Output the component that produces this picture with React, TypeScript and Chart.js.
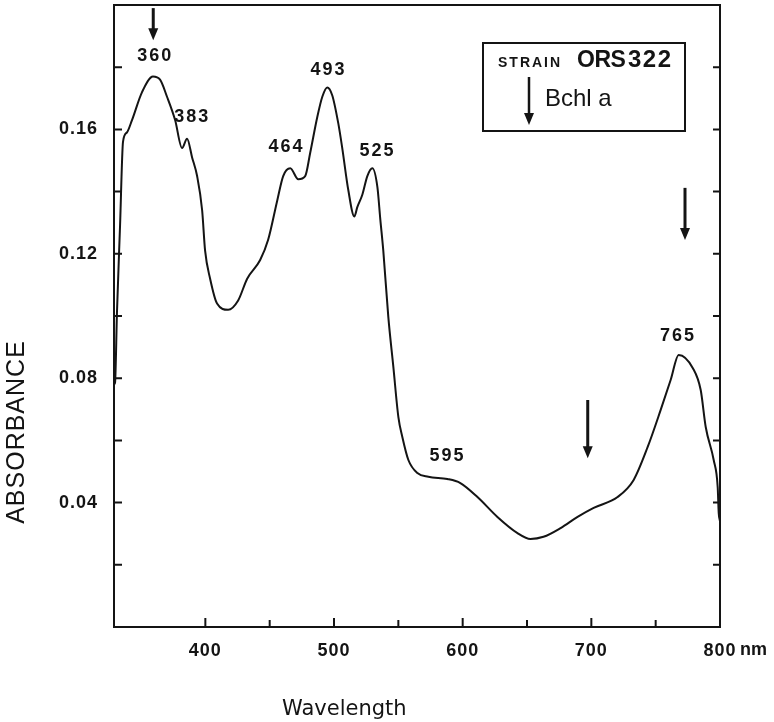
import React, { useEffect, useRef } from 'react';
import { Chart, registerables } from 'chart.js';

Chart.register(...registerables);

// Absorption spectrum, strain ORS 322
const wavelength = [
  329, 329.8, 331.3, 333.7, 336, 339, 343, 350.8, 359.3, 364.8, 370.2, 376.5, 381.9, 385.8, 389.7,
  393.6, 397.5, 399.8, 403.7, 409.1, 417.7, 425.5, 432.5, 442.6, 448.8, 455.8, 460.5, 466, 472.2,
  477.6, 481.5, 487, 490.9, 494.7, 498.6, 503.3, 506.4, 511.1, 515.8, 518.1, 522, 525.9, 529.8,
  533.7, 536, 538.3, 542.2, 546.1, 550, 553.1, 557.8, 564.8, 573.3, 588.1, 598.2, 611.5, 627,
  642.6, 652.7, 662.8, 676.1, 689.3, 701.8, 720.4, 732.9, 743.8, 753.9, 761.7, 767.9, 778.8, 785,
  788.9, 795.1, 798.2, 799, 800,
];
const absorbance = [
  0.078, 0.0785, 0.101, 0.129, 0.156, 0.159, 0.163, 0.172, 0.177, 0.176, 0.1705, 0.163, 0.154,
  0.157, 0.151, 0.145, 0.134, 0.121, 0.112, 0.104, 0.102, 0.105, 0.112, 0.118, 0.1245, 0.137, 0.145,
  0.1475, 0.144, 0.145, 0.1525, 0.164, 0.1705, 0.1735, 0.171, 0.162, 0.154, 0.1405, 0.132, 0.135,
  0.139, 0.145, 0.1475, 0.1415, 0.131, 0.121, 0.0997, 0.0837, 0.0676, 0.0611, 0.0537, 0.0495,
  0.0483, 0.0476, 0.0463, 0.0418, 0.0354, 0.0302, 0.0283, 0.029, 0.0318, 0.0354, 0.0383, 0.0418,
  0.0473, 0.0579, 0.0698, 0.0795, 0.0875, 0.0833, 0.0762, 0.0643, 0.0537, 0.045, 0.0367, 0.034,
];

const xTickLabels = ['400', '500', '600', '700', '800'];
const xUnit = 'nm';
const yTickLabels = ['0.04', '0.08', '0.12', '0.16'];
const xTitle = 'Wavelength';
const yTitle = 'ABSORBANCE';

// peak annotations (label, wavelength, absorbance where the label sits)
const peakLabels = ['360', '383', '464', '493', '525', '595', '765'];
const peakLabelX = [360.3, 389, 462.3, 495, 533, 587.5, 766.5];
const peakLabelY = [0.1836, 0.164, 0.1543, 0.179, 0.153, 0.055, 0.0936];

// Bchl a arrows (wavelength, arrow start absorbance, arrow tip absorbance)
const arrowX = [359.5, 697.2, 772.8];
const arrowTop = [0.199, 0.073, 0.1412];
const arrowTip = [0.1887, 0.0543, 0.1244];

const legendStrain = 'STRAIN';
const legendName = 'ORS';
const legendNumber = '322';
const legendArrowText = 'Bchl a';

const SANS = "'Liberation Sans', Arial, sans-serif";
const INK = '#141414';

function drawArrow(ctx: CanvasRenderingContext2D, x: number, y1: number, y2: number, lw = 3) {
  ctx.beginPath();
  ctx.lineWidth = lw;
  ctx.moveTo(x, y1);
  ctx.lineTo(x, y2 - 10);
  ctx.stroke();
  ctx.beginPath();
  ctx.moveTo(x - 5, y2 - 12);
  ctx.lineTo(x + 5, y2 - 12);
  ctx.lineTo(x, y2);
  ctx.closePath();
  ctx.fill();
}

const overlay = {
  id: 'overlay',
  beforeDraw(chart: any) {
    (chart.ctx as any).letterSpacing = '1px';
  },
  afterDraw(chart: any) {
    const { ctx, chartArea: ca, scales } = chart;
    const xs = scales.x;
    const ys = scales.y;
    ctx.save();
    (ctx as any).letterSpacing = '0px';
    ctx.strokeStyle = INK;
    ctx.fillStyle = INK;

    // frame
    ctx.lineWidth = 2;
    ctx.strokeRect(ca.left, ca.top, ca.right - ca.left, ca.bottom - ca.top);

    // inward ticks
    ctx.lineWidth = 2;
    xs.ticks.forEach((t: any) => {
      const v = t.value;
      if (v % 50 !== 0 || v <= xs.min || v >= xs.max) return;
      const px = xs.getPixelForValue(v);
      const len = v % 100 === 0 ? 9 : 7;
      ctx.beginPath();
      ctx.moveTo(px, ca.bottom);
      ctx.lineTo(px, ca.bottom - len);
      ctx.stroke();
    });
    ys.ticks.forEach((t: any) => {
      const v = t.value;
      if (v <= ys.min + 1e-9 || v >= ys.max - 1e-9) return;
      const py = ys.getPixelForValue(v);
      ctx.beginPath();
      ctx.moveTo(ca.left, py);
      ctx.lineTo(ca.left + 8, py);
      ctx.moveTo(ca.right, py);
      ctx.lineTo(ca.right - 7, py);
      ctx.stroke();
    });

    // unit after last x tick label
    ctx.font = `bold 18px ${SANS}`;
    (ctx as any).letterSpacing = '0px';
    ctx.textAlign = 'left';
    ctx.textBaseline = 'middle';
    ctx.fillText(xUnit, xs.getPixelForValue(800) + 20, ca.bottom + 23);

    // peak labels
    (ctx as any).letterSpacing = '2px';
    ctx.textAlign = 'center';
    ctx.textBaseline = 'middle';
    peakLabels.forEach((lab, i) => {
      ctx.fillText(lab, xs.getPixelForValue(peakLabelX[i]) + 1, ys.getPixelForValue(peakLabelY[i]));
    });
    (ctx as any).letterSpacing = '0px';

    // arrows
    arrowX.forEach((w, i) => {
      drawArrow(ctx, xs.getPixelForValue(w), ys.getPixelForValue(arrowTop[i]), ys.getPixelForValue(arrowTip[i]));
    });

    // legend box
    const bx = ca.right - 237;
    const by = ca.top + 38;
    ctx.lineWidth = 2;
    ctx.strokeRect(bx, by, 202, 88);
    ctx.textAlign = 'left';
    ctx.textBaseline = 'alphabetic';
    ctx.font = `bold 14px ${SANS}`;
    (ctx as any).letterSpacing = '2px';
    ctx.fillText(legendStrain, bx + 15, by + 24);
    ctx.font = `bold 23px ${SANS}`;
    (ctx as any).letterSpacing = '-0.5px';
    ctx.fillText(legendName, bx + 94, by + 24);
    ctx.font = `bold 24px ${SANS}`;
    (ctx as any).letterSpacing = '1.5px';
    ctx.fillText(legendNumber, bx + 145, by + 24);
    ctx.font = `24px ${SANS}`;
    (ctx as any).letterSpacing = '0px';
    ctx.fillText(legendArrowText, bx + 62, by + 63);
    drawArrow(ctx, bx + 46, by + 34, by + 82, 2.5);

    // axis titles
    ctx.font = `21px 'DejaVu Sans', sans-serif`;
    (ctx as any).letterSpacing = '0px';
    ctx.textAlign = 'left';
    ctx.fillText(xTitle, 282, 715);

    ctx.save();
    ctx.translate(17, 432);
    ctx.rotate(-Math.PI / 2);
    ctx.font = `25px ${SANS}`;
    (ctx as any).letterSpacing = '1px';
    ctx.textAlign = 'center';
    ctx.textBaseline = 'middle';
    ctx.fillText(yTitle, 0, 0);
    ctx.restore();

    ctx.restore();
  },
};

export default function App() {
  const ref = useRef<HTMLCanvasElement | null>(null);
  useEffect(() => {
    if (!ref.current) return;
    const chart = new Chart(ref.current, {
      type: 'line',
      data: {
        datasets: [
          {
            data: wavelength.map((w, i) => ({ x: w, y: absorbance[i] })),
            borderColor: INK,
            borderWidth: 2,
            pointRadius: 0,
            fill: false,
            cubicInterpolationMode: 'monotone',
          },
        ],
      },
      options: {
        animation: false,
        responsive: false,
        maintainAspectRatio: false,
        events: [],
        layout: { autoPadding: false, padding: { left: 0, top: 5, right: 54, bottom: 0 } },
        plugins: { legend: { display: false }, tooltip: { enabled: false } },
        scales: {
          x: {
            type: 'linear',
            min: 329,
            max: 800,
            grid: { display: false, drawTicks: false },
            border: { display: false },
            afterFit: (s: any) => {
              s.height = 95;
              s.paddingLeft = 0;
              s.paddingRight = 0;
            },
            ticks: {
              stepSize: 50,
              autoSkip: false,
              maxRotation: 0,
              padding: 13,
              color: INK,
              font: { family: SANS, size: 18, weight: 'bold' },
              callback: (v: any) => (xTickLabels.includes(String(v)) ? String(v) : ''),
            },
          },
          y: {
            type: 'linear',
            min: 0,
            max: 0.2,
            grid: { display: false, drawTicks: false },
            border: { display: false },
            afterFit: (s: any) => {
              s.width = 114;
              s.paddingTop = 0;
              s.paddingBottom = 0;
            },
            ticks: {
              stepSize: 0.02,
              autoSkip: false,
              padding: 16,
              color: INK,
              font: { family: SANS, size: 18, weight: 'bold' },
              callback: (v: any) => {
                const s = (Math.round(Number(v) * 100) / 100).toFixed(2);
                return yTickLabels.includes(s) ? s : '';
              },
            },
          },
        },
      },
      plugins: [overlay],
    } as any);
    return () => chart.destroy();
  }, []);
  return (
    <div style={{ position: 'absolute', left: 0, top: 0, width: 774, height: 722, background: '#fff' }}>
      <canvas ref={ref} width={774} height={722} style={{ display: 'block' }} />
    </div>
  );
}
